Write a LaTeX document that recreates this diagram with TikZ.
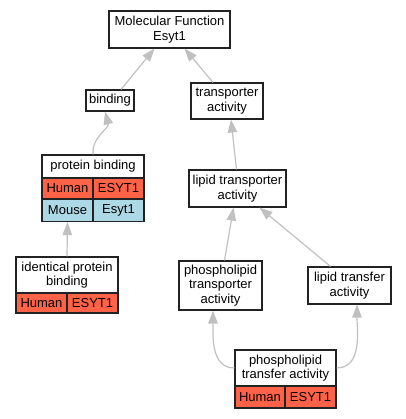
\documentclass[tikz,border=0pt]{standalone}
\usepackage{fontspec}
\setmainfont{Liberation Sans}
\usetikzlibrary{arrows.meta}
\definecolor{dark}{HTML}{222222}
\definecolor{edgegrey}{HTML}{C0C0C0}
\definecolor{humn}{HTML}{FF6347}
\definecolor{mous}{HTML}{ADD8E6}
\tikzset{
  every node/.append style={font=\fontsize{13}{14.5}\selectfont, text=black},
  term/.style={draw=dark, line width=1.1pt, fill=white, align=center, inner sep=0pt},
  cell/.style={draw=dark, line width=1.1pt, inner sep=0pt},
  human/.style={cell, fill=humn},
  mouse/.style={cell, fill=mous},
  isa/.style={-{Triangle[length=13pt, width=9.5pt, fill=edgegrey]}, draw=edgegrey, line width=1.2pt},
}

\begin{document}
\begin{tikzpicture}[x=1pt,y=-1pt]
  \useasboundingbox (0,0) rectangle (405,419);
  % --- top of the tree ---
  \node[term, minimum width=121pt, minimum height=37pt] (mf) at (169.5,29.5){Molecular Function\\Esyt1};
  \node[term, minimum width=48pt, minimum height=21pt] (bind) at (110,100.5){binding};
  \node[term, minimum width=72pt, minimum height=36pt] (trans) at (227,101){transporter\\activity};
  % --- protein binding, with its genes ---
  \node[term, minimum width=102pt, minimum height=23pt] (pb) at (93,166.5){protein binding};
  \node[human, minimum width=51pt, minimum height=21pt] (pbh) at (67.5,188.5){Human};
  \node[human, minimum width=51pt, minimum height=21pt] (pbhg) at (118.5,188.5){ESYT1};
  \node[mouse, minimum width=51pt, minimum height=22pt] (pbm) at (67.5,210.5){Mouse};
  \node[mouse, minimum width=51pt, minimum height=22pt] (pbmg) at (118.5,210.5){Esyt1};
  % --- identical protein binding ---
  \node[term, minimum width=102pt, minimum height=36pt] (ipb) at (67,275){identical protein\\binding};
  \node[human, minimum width=51pt, minimum height=20pt] (ipbh) at (41.5,303){Human};
  \node[human, minimum width=51pt, minimum height=20pt] (ipbg) at (92.5,303){ESYT1};
  % --- transport side ---
  \node[term, minimum width=97pt, minimum height=37pt] (lt) at (237.5,188.5){lipid transporter\\activity};
  \node[term, minimum width=83pt, minimum height=49pt] (plt) at (220.5,285.5){phospholipid\\transporter\\activity};
  \node[term, minimum width=83pt, minimum height=37pt] (ltf) at (349.5,285.5){lipid transfer\\activity};
  \node[term, minimum width=101pt, minimum height=36pt] (pft) at (285.5,368){phospholipid\\transfer activity};
  \node[human, minimum width=50pt, minimum height=22pt] (pfth) at (260,397){Human};
  \node[human, minimum width=51pt, minimum height=22pt] (pftg) at (310.5,397){ESYT1};
  % --- is_a edges ---
  \draw[isa] ([xshift=11pt]bind.north) -- ([xshift=-15pt]mf.south);
  \draw[isa] ([xshift=-14pt]trans.north) -- ([xshift=15pt]mf.south);
  \draw[isa] (pb.north) to[out=95,in=-75] ([xshift=-5pt]bind.south);
  \draw[isa] (ipb.north) -- (pbm.south);
  \draw[isa] ([xshift=-1pt]lt.north) -- ([xshift=4pt]trans.south);
  \draw[isa] ([xshift=4pt]plt.north) -- ([xshift=-4pt]lt.south);
  \draw[isa] ([xshift=-19pt]ltf.north) -- ([xshift=22pt]lt.south);
  \draw[isa] (pft.west) to[out=180,in=-90] ([xshift=-7.5pt]plt.south);
  \draw[isa] (pft.east) to[out=0,in=-90] ([xshift=7.5pt]ltf.south);
\end{tikzpicture}
\end{document}
